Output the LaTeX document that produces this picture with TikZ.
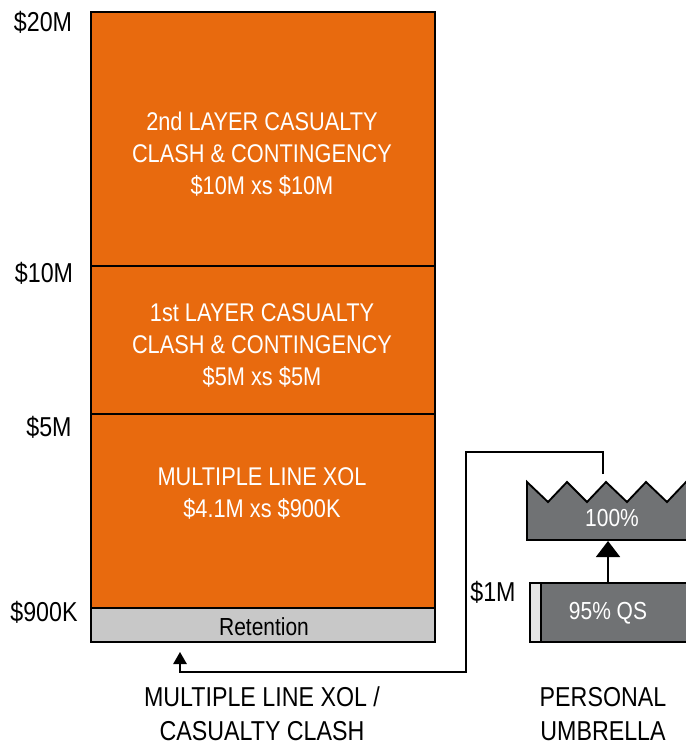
\documentclass[tikz,border=0pt]{standalone}
\usepackage{fontspec}
\setmainfont[FakeStretch=0.85]{Liberation Sans}
\usetikzlibrary{arrows.meta}

\definecolor{layerorange}{RGB}{232,106,14}
\definecolor{retgray}{RGB}{200,200,200}
\definecolor{umbgray}{RGB}{112,114,116}
\definecolor{stripgray}{RGB}{228,228,228}

\tikzset{
  layer/.style={line width=1.7pt, fill=layerorange},
  retbox/.style={line width=1.7pt, fill=retgray},
  umbbox/.style={line width=1.4pt, fill=umbgray},
  stripbox/.style={line width=1.2pt, fill=stripgray},
  layertext/.style={text=white, align=center, font=\fontsize{19.2}{24}\selectfont},
  boxtext/.style={align=center, font=\fontsize{18.5}{24}\selectfont},
  darktext/.style={text=black, align=center, font=\fontsize{20.5}{25.5}\selectfont},
  conn/.style={line width=1.3pt}
}

\begin{document}
\begin{tikzpicture}[x=0.75pt,y=-0.75pt]
    \useasboundingbox (0,0) rectangle (685,748);

    % Layers of the casualty tower
    \draw[layer] (91,12) rectangle (435,266);
    \draw[layer] (91,266) rectangle (435,414);
    \draw[layer] (91,414) rectangle (435,608);
    \draw[retbox] (91,608) rectangle (435,642);

    % Texts inside the tower
    \node[layertext] (second) at (262,154) {2nd LAYER CASUALTY\\CLASH \& CONTINGENCY\\\$10M xs \$10M};
    \node[layertext] (first) at (262,345) {1st LAYER CASUALTY\\CLASH \& CONTINGENCY\\\$5M xs \$5M};
    \node[layertext] (mlxol) at (262,493) {MULTIPLE LINE XOL\\\$4.1M xs \$900K};
    \node[boxtext] (ret) at (264,627) {Retention};

    % Limits on the left
    \node[darktext] (l20) at (43,22) {\$20M};
    \node[darktext] (l10) at (44,273) {\$10M};
    \node[darktext] (l5) at (49,427) {\$5M};
    \node[darktext] (l900) at (44,612) {\$900K};

    % Personal umbrella: 100% layer with the torn top edge
    \draw[umbbox] (527,482) -- (548,502) -- (567,482) -- (587,502) -- (606,482)
        -- (627,502) -- (646,482) -- (667,502) -- (686,482) -- (706,502)
        -- (706,540) -- (527,540) -- cycle;
    \node[boxtext, text=white] (full) at (612,518) {100\%};

    % Personal umbrella: quota share
    \draw[umbbox] (530,583) rectangle (706,642);
    \draw[stripbox] (530,583) rectangle (541,642);
    \node[boxtext, text=white] (qs) at (608,613) {95\% QS};
    \node[darktext] (l1) at (493,592) {\$1M};

    % Connector end points
    \coordinate (qstop) at (608,583);
    \coordinate (fullbot) at (608,541);
    \coordinate (umbtop) at (603,474);
    \coordinate (retin) at (180,652);

    % Arrows
    \draw[conn, -{Triangle[width=18pt,length=12pt]}] (qstop) -- (fullbot);
    \draw[conn, -{Triangle[width=10pt,length=9pt]}] (umbtop) -- (603,452) -| (466,672) -| (retin);

    % Captions below
    \node[darktext] (capl) at (262,714) {MULTIPLE LINE XOL /\\CASUALTY CLASH};
    \node[darktext] (capr) at (603,714) {PERSONAL\\UMBRELLA};

\end{tikzpicture}
\end{document}
